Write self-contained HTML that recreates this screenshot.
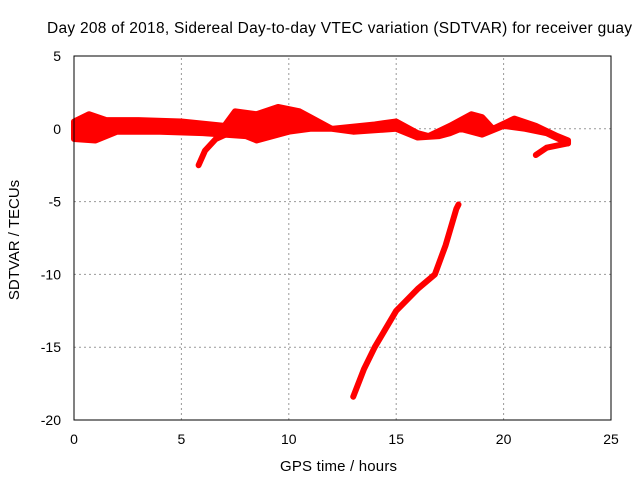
<!DOCTYPE html>
<html><head><meta charset="utf-8"><style>
body{margin:0;background:#fff;font-family:"Liberation Sans",sans-serif}
text{font-family:"Liberation Sans",sans-serif;font-size:14px;fill:#000}
</style></head><body>
<svg id="chart" width="640" height="480" viewBox="0 0 640 480" xmlns="http://www.w3.org/2000/svg">
<rect width="640" height="480" fill="#fff"/>
<text x="47" y="33" style="font-size:15.5px" textLength="585" lengthAdjust="spacing">Day 208 of 2018, Sidereal Day-to-day VTEC variation (SDTVAR) for receiver guay</text>
<text x="280" y="471" style="font-size:15px" textLength="117" lengthAdjust="spacing">GPS time / hours</text>
<text transform="translate(19,240) rotate(-90)" text-anchor="middle" style="font-size:15px">SDTVAR / TECUs</text>
<g id="grid"></g><g id="ticks"></g><g id="series"></g>
<rect x="74" y="56" width="537" height="364" fill="none" stroke="#000" stroke-width="1"/>
</svg>
<script>
const xTicks=[0,5,10,15,20,25];
const yTicks=[5,0,-5,-10,-15,-20];
const bandUpper=[[0,0.5],[0.7,1],[1.5,0.6],[3,0.6],[5,0.5],[7,0.2],[7.5,1.2],[8.5,1],[9.5,1.5],[10.5,1.2],[11,0.8],[12,0],[14,0.3],[15,0.5],[16,-0.3],[16.5,-0.5],[17.5,0.2],[18.5,1],[19,0.8],[19.5,0],[20.5,0.7],[21.5,0.2],[22.5,-0.5],[23,-0.8]];
const bandLower=[[0,-0.7],[1,-0.8],[2,-0.2],[4,-0.2],[6,-0.3],[8,-0.5],[8.5,-0.8],[10,-0.2],[11,0],[12,0],[13,-0.2],[15,0],[16,-0.6],[17,-0.5],[17.5,-0.3],[18,0],[19,-0.4],[20,0.2],[21,0],[22,-0.3],[23,-1]];
const branchA=[[5.8,-2.5],[6.1,-1.5],[6.6,-0.7],[7.2,-0.3]];
const branchB=[[21.5,-1.8],[22,-1.3],[23,-1]];
const steep=[[13,-18.4],[13.5,-16.5],[14,-15],[15,-12.5],[16,-11],[16.8,-10],[17.3,-8],[17.8,-5.5],[17.9,-5.2]];
const X0=74,X1=611,Y0=420,Y1=56;
const sx=v=>X0+(v-0)/25*(X1-X0);
const sy=v=>Y0-(v+20)/25*(Y0-Y1);
const NS="http://www.w3.org/2000/svg";
const grid=document.getElementById('grid'),ticks=document.getElementById('ticks'),ser=document.getElementById('series');
function mk(t,a,p){const e=document.createElementNS(NS,t);for(const k in a)e.setAttribute(k,a[k]);p.appendChild(e);return e;}
xTicks.forEach(v=>{
 if(v>0&&v<25){const g=mk('line',{x1:sx(v),x2:sx(v),y1:Y0,y2:Y1,stroke:'#999','stroke-dasharray':'2,3'},grid);
 
 }
 const t=mk('text',{x:sx(v),y:444,'text-anchor':'middle'},ticks);t.textContent=v;
 
 
});
yTicks.forEach(v=>{
 if(v>-20&&v<5){const g=mk('line',{x1:X0,x2:X1,y1:sy(v),y2:sy(v),stroke:'#999','stroke-dasharray':'2,3'},grid);
 
 }
 const t=mk('text',{x:61,y:sy(v)+5,'text-anchor':'end'},ticks);t.textContent=v;
 
 
});
const pts=a=>a.map(p=>sx(p[0])+','+sy(p[1])).join(' ');
const band=mk('polygon',{points:pts(bandUpper)+' '+pts(bandLower.slice().reverse()),fill:'#f00',stroke:'#f00','stroke-width':6,'stroke-linejoin':'round'},ser);


[[branchA,'branch-6h',6],[branchB,'branch-22h',6],[steep,'steep-descent-series',6]].forEach(([d,n,w])=>{
 const l=mk('polyline',{points:pts(d),fill:'none',stroke:'#f00','stroke-width':w,'stroke-linejoin':'round','stroke-linecap':'round'},ser);
 
 
});
</script>
</body></html>
